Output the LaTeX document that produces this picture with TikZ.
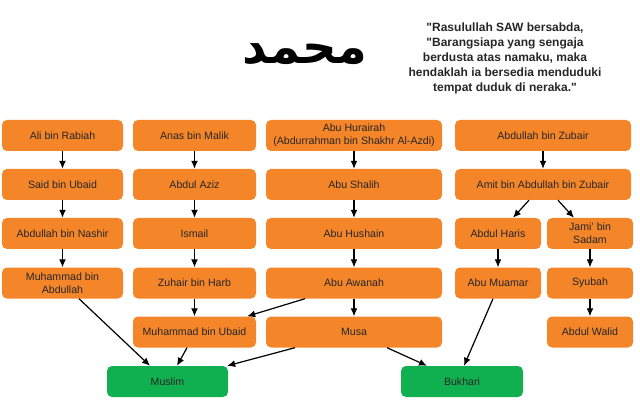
\documentclass[tikz,border=0pt]{standalone}
\usepackage{fontspec}
\setmainfont{Liberation Sans}
\newfontfamily\arabicfont[Script=Arabic]{DejaVu Sans}
\TeXXeTstate=1
\usetikzlibrary{arrows.meta}
\definecolor{rawiorange}{RGB}{244,133,40}
\definecolor{imamgreen}{RGB}{16,176,80}

\begin{document}
\begin{tikzpicture}[x=1pt,y=1pt,>={Latex[length=8pt,width=7pt]},
  rawi/.style={rectangle,rounded corners=5pt,fill=rawiorange,minimum height=31pt,
    inner sep=1pt,align=center,text=black!85,font=\fontsize{10.6}{13}\selectfont},
  imam/.style={rawi,fill=imamgreen},
  link/.style={->,line width=1.2pt}]
  \useasboundingbox (0,0) rectangle (640,-406);

  \node[font=\arabicfont\bfseries\fontsize{48}{56}\selectfont] (nama) at (305,-54) {\beginR محمد\endR};
  \node[align=center,font=\bfseries\fontsize{12}{15}\selectfont,text=black!85] (hadis) at (505,-58)
    {\textquotedbl Rasulullah SAW bersabda,\\\textquotedbl Barangsiapa yang sengaja\\berdusta atas namaku, maka\\hendaklah ia bersedia menduduki\\tempat duduk di neraka.\textquotedbl};

  \node[rawi,minimum width=121pt] (ali) at (62.5,-135.5) {Ali bin Rabiah};
  \node[rawi,minimum width=121pt] (said) at (62.5,-184.5) {Said bin Ubaid};
  \node[rawi,minimum width=121pt] (nashir) at (62.5,-233.5) {Abdullah bin Nashir};
  \node[rawi,minimum width=121pt] (mba) at (62.5,-283) {Muhammad bin\\Abdullah};
  \draw[link] (ali) -- (said);
  \draw[link] (said) -- (nashir);
  \draw[link] (nashir) -- (mba);

  \node[rawi,minimum width=123pt] (anas) at (194.5,-135.5) {Anas bin Malik};
  \node[rawi,minimum width=123pt] (aziz) at (194.5,-184.5) {Abdul Aziz};
  \node[rawi,minimum width=123pt] (ismail) at (194.5,-233.5) {Ismail};
  \node[rawi,minimum width=123pt] (zuhair) at (194.5,-283) {Zuhair bin Harb};
  \node[rawi,minimum width=123pt] (mbu) at (194.5,-332) {Muhammad bin Ubaid};
  \draw[link] (anas) -- (aziz);
  \draw[link] (aziz) -- (ismail);
  \draw[link] (ismail) -- (zuhair);
  \draw[link] (zuhair) -- (mbu);

  \node[rawi,minimum width=176pt] (hurairah) at (354,-135.5) {Abu Hurairah\\(Abdurrahman bin Shakhr Al-Azdi)};
  \node[rawi,minimum width=176pt] (shalih) at (354,-184.5) {Abu Shalih};
  \node[rawi,minimum width=176pt] (hushain) at (354,-233.5) {Abu Hushain};
  \node[rawi,minimum width=176pt] (awanah) at (354,-283) {Abu Awanah};
  \node[rawi,minimum width=176pt] (musa) at (354,-332) {Musa};
  \draw[link] (hurairah) -- (shalih);
  \draw[link] (shalih) -- (hushain);
  \draw[link] (hushain) -- (awanah);
  \draw[link] (awanah) -- (musa);

  \node[rawi,minimum width=176pt] (zubair) at (543,-135.5) {Abdullah bin Zubair};
  \node[rawi,minimum width=176pt] (amit) at (543,-184.5) {Amit bin Abdullah bin Zubair};
  \node[rawi,minimum width=86pt] (haris) at (498,-233.5) {Abdul Haris};
  \node[rawi,minimum width=86pt] (jami) at (590,-233.5) {Jami’ bin\\Sadam};
  \node[rawi,minimum width=86pt] (muamar) at (498,-283) {Abu Muamar};
  \node[rawi,minimum width=86pt] (syubah) at (590,-283) {Syubah};
  \node[rawi,minimum width=86pt] (walid) at (590,-332) {Abdul Walid};
  \draw[link] (zubair) -- (amit);
  \draw[link] ([xshift=-14pt]amit.south) -- ([xshift=15pt]haris.north);
  \draw[link] ([xshift=15pt]amit.south) -- ([xshift=-16pt]jami.north);
  \draw[link] (haris) -- (muamar);
  \draw[link] (jami) -- (syubah);
  \draw[link] (syubah) -- (walid);

  \node[imam,minimum width=121pt] (muslim) at (167.5,-381.5) {Muslim};
  \node[imam,minimum width=122pt] (bukhari) at (462,-381.5) {Bukhari};
  \draw[link] ([xshift=-49pt]awanah.south) -- ([xshift=-9pt]mbu.north east);
  \draw[link] ([xshift=16.5pt]mba.south) -- ([xshift=-17.5pt]muslim.north);
  \draw[link] ([xshift=-7.5pt]mbu.south) -- ([xshift=9.5pt]muslim.north);
  \draw[link] ([xshift=-59pt]musa.south) -- ([xshift=-1pt]muslim.north east);
  \draw[link] ([xshift=33pt]musa.south) -- ([xshift=-35pt]bukhari.north);
  \draw[link] ([xshift=-5pt]muamar.south) -- ([xshift=2pt]bukhari.north);
\end{tikzpicture}
\end{document}
